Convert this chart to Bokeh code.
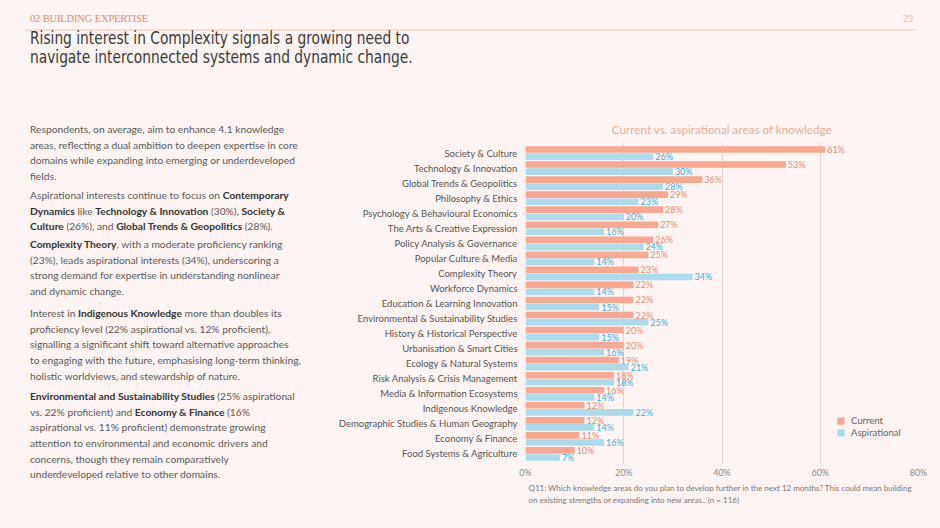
from bokeh.plotting import figure
from bokeh.models import (ColumnDataSource, FactorRange, Range1d, FixedTicker, Div,
                          Title, Legend, LegendItem)
from bokeh.layouts import column, row
from bokeh.transform import dodge
from bokeh.core.properties import value
from bokeh.embed import file_html
from bokeh.resources import INLINE

BG = "#fcf4f2"
CUR = "#f8a890"
ASP = "#aadcee"
CUR_T = "#ec8b70"
ASP_T = "#38b2de"
FONT = "Lato"

categories = [
    "Society & Culture",
    "Technology & Innovation",
    "Global Trends & Geopolitics",
    "Philosophy & Ethics",
    "Psychology & Behavioural Economics",
    "The Arts & Creative Expression",
    "Policy Analysis & Governance",
    "Popular Culture & Media",
    "Complexity Theory",
    "Workforce Dynamics",
    "Education & Learning Innovation",
    "Environmental & Sustainability Studies",
    "History & Historical Perspective",
    "Urbanisation & Smart Cities",
    "Ecology & Natural Systems",
    "Risk Analysis & Crisis Management",
    "Media & Information Ecosystems",
    "Indigenous Knowledge",
    "Demographic Studies & Human Geography",
    "Economy & Finance",
    "Food Systems & Agriculture",
]
current = [61, 53, 36, 29, 28, 27, 26, 25, 23, 22, 22, 22, 20, 20, 19, 18, 16, 12, 12, 11, 10]
aspirational = [26, 30, 28, 23, 20, 16, 24, 14, 34, 14, 15, 25, 15, 16, 21, 18, 14, 22, 14, 16, 7]
x_ticks = [0, 20, 40, 60, 80]
tick_labels = ["0%", "20%", "40%", "60%", "80%"]
series_names = ["Current", "Aspirational"]

src = ColumnDataSource(dict(
    cat=categories,
    current=current,
    aspirational=aspirational,
    cur_lbl=[f"{v}%" for v in current],
    asp_lbl=[f"{v}%" for v in aspirational],
))

p = figure(width=612, height=412,
           y_range=FactorRange(factors=categories[::-1], range_padding=0.2,
                               range_padding_units="absolute"),
           x_range=Range1d(0, 80),
           output_backend="svg", toolbar_location=None,
           min_border_left=205, min_border_right=14,
           min_border_top=34, min_border_bottom=56,
           background_fill_color=BG, border_fill_color=BG,
           outline_line_color=None)

OFF = 0.235
H = 0.44
r1 = p.hbar(y=dodge("cat", OFF, range=p.y_range), left=0, right="current", height=H,
            fill_color=CUR, line_color=None, source=src)
r2 = p.hbar(y=dodge("cat", -OFF, range=p.y_range), left=0, right="aspirational", height=H,
            fill_color=ASP, line_color=None, source=src)

p.text(x="current", y=dodge("cat", OFF, range=p.y_range), text="cur_lbl", source=src,
       x_offset=2, text_align="left", text_baseline="middle", text_font_size="9px",
       text_color=CUR_T, text_font=value(FONT))
p.text(x="aspirational", y=dodge("cat", -OFF, range=p.y_range), text="asp_lbl", source=src,
       x_offset=2, text_align="left", text_baseline="middle", text_font_size="9px",
       text_color=ASP_T, text_font=value(FONT))

p.xaxis.ticker = FixedTicker(ticks=x_ticks)
p.xaxis.major_label_overrides = dict(zip(x_ticks, tick_labels))
for ax in (p.xaxis, p.yaxis):
    ax.axis_line_color = None
    ax.major_tick_line_color = None
    ax.minor_tick_line_color = None
    ax.major_tick_out = 0
    ax.major_tick_in = 0
    ax.minor_tick_out = 0
    ax.minor_tick_in = 0
    ax.major_label_text_font = FONT
p.xaxis.major_label_text_color = "#8c8c8c"
p.xaxis.major_label_text_font_size = "9px"
p.xaxis.major_label_standoff = 2
p.yaxis.major_label_text_color = "#555555"
p.yaxis.major_label_text_font_size = "9.5px"
p.yaxis.major_label_standoff = 8
p.xgrid.grid_line_color = "#e6d3cd"
p.ygrid.grid_line_color = None

p.title.text = "Current vs. aspirational areas of knowledge"
p.title.align = "center"
p.title.text_font = FONT
p.title.text_font_size = "11.7px"
p.title.text_font_style = "normal"
p.title.text_color = "#efac96"
p.title.standoff = 14

legend = Legend(items=[LegendItem(label=series_names[0], renderers=[r1]),
                       LegendItem(label=series_names[1], renderers=[r2])],
                location=(311, 26), orientation="vertical",
                background_fill_alpha=0, border_line_color=None,
                label_text_font=FONT, label_text_font_size="9.5px", label_text_color="#666666",
                glyph_width=9, glyph_height=9, label_height=9, label_standoff=6,
                spacing=1, padding=0, margin=0)
p.add_layout(legend)

foot = Title(text="Q11: Which knowledge areas do you plan to develop further in the next 12 months? This could mean building\n"
                  "on existing strengths or expanding into new areas.. (n = 116)",
             align="left", text_font=FONT, text_font_size="8px", text_font_style="normal",
             text_color="#7a7a7a", standoff=0, offset=3, text_line_height=1.15)
p.add_layout(foot, "below")

top_html = """
<div style="position:relative;width:924px;height:100px;">
  <div style="position:absolute;left:22px;top:5px;font-family:'Liberation Serif',serif;font-size:10.5px;line-height:12px;color:#e8896c;letter-spacing:-0.15px;white-space:nowrap;">02 BUILDING EXPERTISE</div>
  <div style="position:absolute;right:19px;top:5px;font-family:'Liberation Serif',serif;font-size:10px;line-height:12px;color:#e6bfb4;">29</div>
  <div style="position:absolute;left:17px;top:21px;width:890px;height:2px;background:#f6ddd6;"></div>
  <div style="position:absolute;left:22px;top:21px;font-family:'DejaVu Sans Condensed','DejaVu Sans',sans-serif;font-size:17px;line-height:19px;color:#3a3a3a;white-space:nowrap;transform:scaleX(0.9);transform-origin:0 0;">Rising interest in Complexity signals a growing need to<br>navigate interconnected systems and dynamic change.</div>
</div>
"""

pstyle = "position:absolute;left:22px;font-family:Lato,sans-serif;font-size:10.25px;line-height:15.6px;color:#5a5a5a;white-space:nowrap;"
B = '<b style="color:#333;font-weight:700;">'
paras = [
    (14.2, "Respondents, on average, aim to enhance 4.1 knowledge<br>areas, reflecting a dual ambition to deepen expertise in core<br>domains while expanding into emerging or underdeveloped<br>fields."),
    (80.2, f"Aspirational interests continue to focus on {B}Contemporary</b><br>{B}Dynamics</b> like {B}Technology &amp; Innovation</b> (30%), {B}Society &amp;</b><br>{B}Culture</b> (26%), and {B}Global Trends &amp; Geopolitics</b> (28%)."),
    (129.2, f"{B}Complexity Theory</b>, with a moderate proficiency ranking<br>(23%), leads aspirational interests (34%), underscoring a<br>strong demand for expertise in understanding nonlinear<br>and dynamic change."),
    (198.2, f"Interest in {B}Indigenous Knowledge</b> more than doubles its<br>proficiency level (22% aspirational vs. 12% proficient),<br>signalling a significant shift toward alternative approaches<br>to engaging with the future, emphasising long-term thinking,<br>holistic worldviews, and stewardship of nature."),
    (281.2, f"{B}Environmental and Sustainability Studies</b> (25% aspirational<br>vs. 22% proficient) and {B}Economy &amp; Finance</b> (16%<br>aspirational vs. 11% proficient) demonstrate growing<br>attention to environmental and economic drivers and<br>concerns, though they remain comparatively<br>underdeveloped relative to other domains."),
]
left_html = '<div style="position:relative;width:312px;height:412px;">' + "".join(
    f'<div style="{pstyle}top:{t}px;">{txt}</div>' for t, txt in paras) + "</div>"

top_div = Div(text=top_html, width=924, height=100, margin=0, styles={"background-color": BG})
left_div = Div(text=left_html, width=312, height=412, margin=0, styles={"background-color": BG})
layout = column(top_div, row(left_div, p, spacing=0), spacing=0)

html = file_html(layout, INLINE)
page_css = ("<style>html, body { background: %s !important; } "
            "body { margin: 0 !important; padding: 8px !important; box-sizing: border-box !important; "
            "overflow: hidden !important; }</style>" % BG)
html = html.replace("</head>", page_css + "</head>", 1)
open("out.html", "w").write(html)
